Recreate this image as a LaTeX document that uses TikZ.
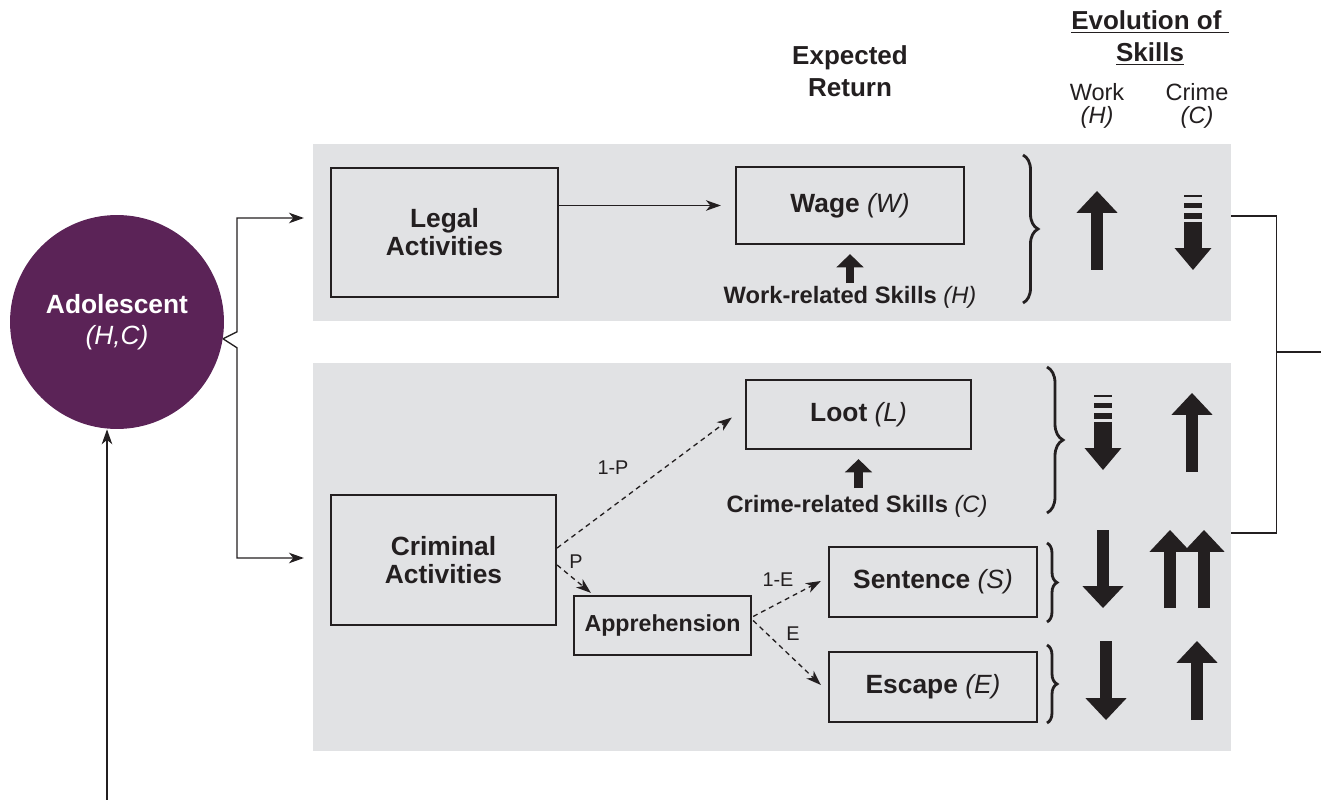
\documentclass[tikz,border=0pt]{standalone}
\usepackage{fontspec}
\setmainfont{Liberation Sans}
\usepackage{tikz}
\usetikzlibrary{arrows.meta,decorations.pathreplacing,calc,positioning}
\definecolor{panelgray}{RGB}{225,226,228}
\definecolor{adolpurple}{RGB}{91,35,87}
\definecolor{ink}{RGB}{35,31,32}
\def\PanelWidth{18.36cm}
\def\RowHeight{1.4cm}

\tikzset{
  pics/fadedown/.style={code={
    \draw[draw=ink,line width=10pt,-{Triangle[width=21pt,length=12.5pt,line width=0pt]}] (0,-48) -- (0,0);
    \foreach \a/\b in {-75/-73,-67/-62,-57/-51}
      \fill[ink] (-9,\a) rectangle (9,\b);
  }}
}

\begin{document}
\begin{tikzpicture}[x=0.02cm,y=-0.02cm,
  panel/.style={fill=panelgray,inner sep=0pt,minimum width=\PanelWidth},
  box/.style={draw=ink,line width=1.3pt,align=center,inner sep=0pt,text=ink,
    font=\fontsize{15}{16}\selectfont\bfseries},
  conn/.style={draw=ink,line width=0.75pt,-{Stealth[length=8.5pt,width=6pt,inset=2.5pt]}},
  link/.style={draw=ink,line width=0.75pt},
  chance/.style={conn,dash pattern=on 2.8pt off 2.3pt},
  lbl/.style={font=\fontsize{11.3}{13}\selectfont,text=ink,inner sep=0pt},
  skills/.style={font=\fontsize{13.5}{15}\selectfont\bfseries,text=ink,inner sep=0pt},
  head/.style={font=\fontsize{14.8}{18}\selectfont\bfseries,text=ink,align=center,inner sep=0pt},
  col/.style={font=\fontsize{13.4}{13}\selectfont,text=ink,align=center,inner sep=0pt},
  smallup/.style={draw=ink,line width=5pt,-{Triangle[width=15.5pt,length=7.5pt,line width=0pt]}},
  bigarrow/.style={draw=ink,line width=6.5pt,-{Triangle[width=23.5pt,length=12.5pt,line width=0pt]}},
  brc/.style={draw=ink,line width=1.6pt,decorate,decoration={brace,amplitude=#1}},
]
\useasboundingbox (0,0) rectangle (1321,800);

% gray backgrounds
\node[panel,minimum height=3.54cm] (legalpanel) at (772,232.5) {};
\node[panel,minimum height=7.76cm] (crimepanel) at (772,557) {};

% agent
\node[circle,fill=adolpurple,minimum size=4.28cm,inner sep=0pt,align=center,text=white,
  font=\fontsize{15}{18}\selectfont] (adol) at (117,322) {\textbf{Adolescent}\\\textit{(H,C)}};

% choices and outcomes
\node[box,minimum width=4.54cm,minimum height=2.58cm] (legal) at (444.5,232.5) {Legal\\Activities};
\node[box,minimum width=4.56cm,minimum height=1.54cm] (wage) at (850,205.5) {Wage \textmd{\textit{(W)}}};
\node[box,minimum width=4.5cm,minimum height=1.38cm] (loot) at (858.5,414.5) {Loot \textmd{\textit{(L)}}};
\node[box,minimum width=4.5cm,minimum height=2.6cm] (crim) at (443.5,560) {Criminal\\Activities};
\node[box,minimum width=3.54cm,minimum height=1.18cm,font=\fontsize{13.2}{15}\selectfont\bfseries] (appr) at (662.5,625.5) {Apprehension};
\node[box,minimum width=4.16cm,minimum height=\RowHeight] (sent) at (933,582) {Sentence \textmd{\textit{(S)}}};
\node[box,minimum width=4.16cm,minimum height=\RowHeight] (esc) at (933,687) {Escape \textmd{\textit{(E)}}};

\node[skills] (wskill) at (850,297) {Work-related Skills \textmd{\textit{(H)}}};
\node[skills] (cskill) at (857,506) {Crime-related Skills \textmd{\textit{(C)}}};
\draw[smallup] ($(wage.south)+(0,38)$) -- ($(wage.south)+(0,9)$);
\draw[smallup] ($(loot.south)+(0,38)$) -- ($(loot.south)+(0,9)$);

% column heads
\node[head] (expret) at (850,71) {Expected\\Return};
\node[head] (evol) at (1150,38) {\underline{Evolution of\ }\\\underline{Skills}};
\node[col] (workcol) at (1097,106) {Work\\\textit{(H)}};
\node[col] (crimecol) at (1197,106) {Crime\\\textit{(C)}};

% branching from the agent
\draw[conn] (adol.-9) -- ++(14,-7) |- ($(legal.west)+(-26,-14.5)$);
\draw[conn] (adol.-9) -- ++(14,9) |- ($(crim.west)+(-26,-2)$);
\draw[conn,shorten >=0.28cm] (legal.east |- wage.west) -- (wage.west);

% chance branches
\draw[chance] ($(crim.east)+(0,-12)$) -- ($(loot.west)+(-13,3)$);
\draw[chance] ($(crim.east)+(0,5)$) -- ($(appr.north west)+(18,-2)$);
\draw[chance] ($(appr.east)+(1,-9)$) -- ($(sent.west)+(-7,-1)$);
\draw[chance] ($(appr.east)+(1,-5)$) -- ($(esc.west)+(-7,-2)$);
\node[lbl] (pmiss) at (613,468) {1-P};
\node[lbl] (phit) at (576,562) {P};
\node[lbl] (esent) at (778,580) {1-E};
\node[lbl] (eesc) at (793,634) {E};

% braces
\draw[brc=0.3cm] (1023,155) -- (1023,303);
\draw[brc=0.32cm] (1047,367) -- (1047,513);
\draw[brc=0.2cm] (1047,543) -- (1047,622);
\draw[brc=0.2cm] (1047,645) -- (1047,723);

% skill changes
\draw[bigarrow] (1097,270) -- (1097,191);
\pic at (1193,270) {fadedown};
\pic at (1103,470) {fadedown};
\draw[bigarrow] (1192,472) -- (1192,393);
\draw[bigarrow] (1103,530) -- (1103,608);
\draw[bigarrow] (1170,608) -- (1170,530);
\draw[bigarrow] (1204,608) -- (1204,530);
\draw[bigarrow] (1106,641) -- (1106,720);
\draw[bigarrow] (1197,720) -- (1197,641);

% next period
\draw[link] ($(legalpanel.east)+(0,-16.5)$) -- ++(45,0) |- ($(crimepanel.east)+(0,-24)$);
\coordinate (join) at (1276,352);
\coordinate (next) at (1321,352);
\draw[link] (join) -- (next);
\coordinate (back) at (107,800);
\draw[conn] (back) -- (back |- adol.south);
\end{tikzpicture}
\end{document}
